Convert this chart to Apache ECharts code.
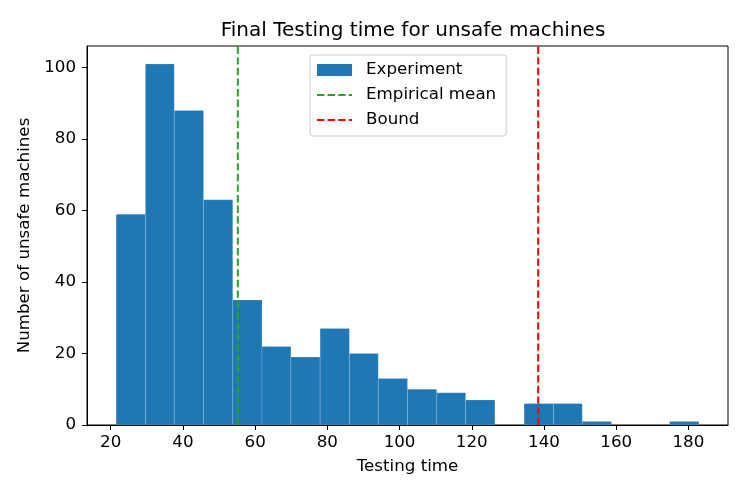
<!DOCTYPE html>
<html>
<head>
<meta charset="utf-8">
<script src="https://cdn.jsdelivr.net/npm/echarts@6/dist/echarts.min.js"></script>
<style>
    html, body { margin: 0; padding: 0; background: #fff; }
    #container { width: 747px; height: 498px; }
</style>
</head>
<body>
<div id="container"></div>
<script>
// histogram bin edges (testing time) and counts per bin
var binEdges = [21.5, 29.6, 37.6, 45.7, 53.8, 61.9, 69.9, 78.0, 86.1, 94.1, 102.2,
    110.3, 118.3, 126.4, 134.5, 142.6, 150.6, 158.7, 166.8, 174.8, 182.9];
var binCounts = [59, 101, 88, 63, 35, 22, 19, 27, 20, 13, 10, 9, 7, 0, 6, 6, 1, 0, 0, 1];
// vertical reference lines
var empiricalMean = 55.2;
var bound = 138.4;
// tick labels
var xTicks = [20, 40, 60, 80, 100, 120, 140, 160, 180];
var yTicks = [0, 20, 40, 60, 80, 100];

var xMin = 13.43, xMax = 190.97;
var yMin = 0, yMax = 106.05;

var ChartModule = (function (echarts) {
    var chart;
    var font = 'DejaVu Sans';
    var fs = 16.7;
    // legend symbol for the dashed lines is hidden, only the line stays
    var hidden = { color: 'rgba(0,0,0,0)', borderColor: 'rgba(0,0,0,0)', borderWidth: 0 };

    function histData() {
        var rows = [];
        for (var i = 0; i < binCounts.length; i++) {
            rows.push([binEdges[i], binEdges[i + 1], binCounts[i]]);
        }
        return rows;
    }

    function renderBin(params, api) {
        var h = api.value(2);
        if (!h) return null;
        var topLeft = api.coord([api.value(0), h]);
        var bottomRight = api.coord([api.value(1), 0]);
        return {
            type: 'rect',
            shape: {
                x: topLeft[0],
                y: topLeft[1],
                width: bottomRight[0] - topLeft[0],
                height: bottomRight[1] - topLeft[1]
            },
            style: {
                fill: '#1f77b4',
                stroke: 'rgba(255,255,255,0.2)',
                lineWidth: 0.8
            }
        };
    }

    function init() {
        chart = echarts.init(document.getElementById('container'), null, { renderer: 'canvas' });
        var option = {
            animation: false,
            backgroundColor: '#fff',
            title: {
                text: 'Final Testing time for unsafe machines',
                left: 408,
                textAlign: 'center',
                top: 16,
                textStyle: { fontFamily: font, fontSize: 20, fontWeight: 'normal', color: '#000' }
            },
            legend: {
                orient: 'vertical',
                left: 310,
                top: 55,
                padding: [5, 10, 6, 6],
                itemWidth: 35,
                itemHeight: 12,
                itemGap: 5,
                borderColor: '#cccccc',
                borderWidth: 1,
                borderRadius: 3,
                backgroundColor: 'rgba(255,255,255,0.8)',
                textStyle: { fontFamily: font, fontSize: fs, color: '#000', lineHeight: 20, padding: [0, 0, 0, 9] },
                data: [
                    { name: 'Experiment', icon: 'rect' },
                    { name: 'Empirical mean', itemStyle: hidden },
                    { name: 'Bound', itemStyle: hidden }
                ]
            },
            grid: {
                left: 87, right: 19, top: 46, bottom: 73,
                show: true, borderColor: '#000', borderWidth: 1
            },
            xAxis: {
                type: 'value',
                min: xMin,
                max: xMax,
                name: 'Testing time',
                nameLocation: 'middle',
                nameGap: 33,
                nameTextStyle: { fontFamily: font, fontSize: fs, color: '#000' },
                axisLine: { show: true, lineStyle: { color: '#000', width: 1 } },
                axisTick: { show: true, length: 5, lineStyle: { color: '#000' }, customValues: xTicks },
                axisLabel: { fontFamily: font, fontSize: fs, color: '#000', margin: 9, customValues: xTicks },
                splitLine: { show: false }
            },
            yAxis: {
                type: 'value',
                min: yMin,
                max: yMax,
                name: 'Number of unsafe machines',
                nameLocation: 'middle',
                nameGap: 51,
                nameTextStyle: { fontFamily: font, fontSize: fs, color: '#000' },
                axisLine: { show: true, lineStyle: { color: '#000', width: 1 } },
                axisTick: { show: true, length: 5, lineStyle: { color: '#000' }, customValues: yTicks },
                axisLabel: { fontFamily: font, fontSize: fs, color: '#000', margin: 11, customValues: yTicks },
                splitLine: { show: false }
            },
            series: [{
                name: 'Experiment',
                type: 'custom',
                renderItem: renderBin,
                itemStyle: { color: '#1f77b4' },
                encode: { x: [0, 1], y: 2 },
                data: histData(),
                z: 2
            }, {
                name: 'Empirical mean',
                type: 'line',
                symbol: 'none',
                color: '#2ca02c',
                lineStyle: { color: '#2ca02c', width: 2, type: [7.4, 3.2] },
                data: [[empiricalMean, yMin], [empiricalMean, yMax]],
                z: 3
            }, {
                name: 'Bound',
                type: 'line',
                symbol: 'none',
                color: '#ff0000',
                lineStyle: { color: '#ff0000', width: 2, type: [7.4, 3.2] },
                data: [[bound, yMin], [bound, yMax]],
                z: 3
            }]
        };
        chart.setOption(option);
    }

    return { init: init };
})(echarts);

ChartModule.init();
</script>
</body>
</html>
